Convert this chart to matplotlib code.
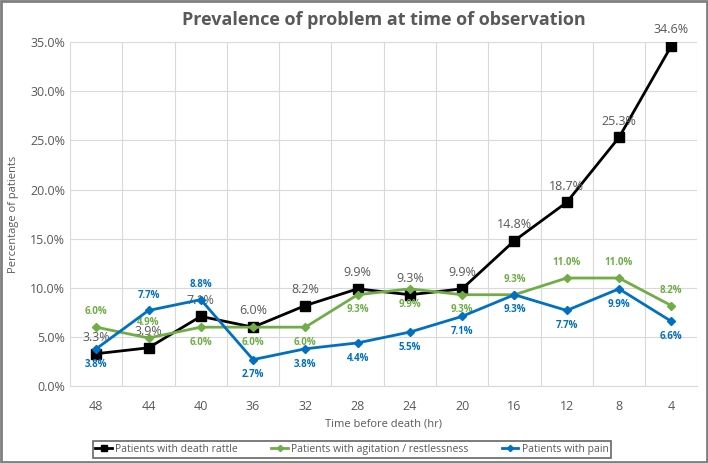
import numpy as np
import matplotlib.pyplot as plt
from matplotlib.ticker import FuncFormatter

plt.rcParams['font.family'] = ['Open Sans', 'DejaVu Sans']

hours = ['48', '44', '40', '36', '32', '28', '24', '20', '16', '12', '8', '4']
rattle = [3.3, 3.9, 7.1, 6.0, 8.2, 9.9, 9.3, 9.9, 14.8, 18.7, 25.3, 34.6]
agitation = [6.0, 4.9, 6.0, 6.0, 6.0, 9.3, 9.9, 9.3, 9.3, 11.0, 11.0, 8.2]
pain = [3.8, 7.7, 8.8, 2.7, 3.8, 4.4, 5.5, 7.1, 9.3, 7.7, 9.9, 6.6]

# label placement: 1 above, -1 below
agit_pos = [1, 1, -1, -1, -1, -1, -1, -1, 1, 1, 1, 1]
pain_pos = [-1, 1, 1, -1, -1, -1, -1, -1, -1, -1, -1, -1]

grey = '#595959'
green = '#70AD47'
blue = '#0070C0'

fig = plt.figure(figsize=(7.08, 4.63), dpi=100)
ax = fig.add_axes([0.099, 0.166, 0.886, 0.743])

x = np.arange(len(hours))
ax.plot(x, rattle, color='black', lw=2, marker='s', ms=7, label='Patients with death rattle', zorder=3)
ax.plot(x, agitation, color=green, lw=2, marker='D', ms=4.5, label='Patients with agitation / restlessness', zorder=4)
ax.plot(x, pain, color=blue, lw=2, marker='D', ms=4.5, label='Patients with pain', zorder=5)

for i in x:
    ax.annotate(f'{rattle[i]:.1f}%', (i, rattle[i]), xytext=(0, 7), textcoords='offset points',
                ha='center', va='bottom', color=grey, fontsize=9)
    ax.annotate(f'{agitation[i]:.1f}%', (i, agitation[i]), xytext=(0, 7 * agit_pos[i]), textcoords='offset points',
                ha='center', va='bottom' if agit_pos[i] > 0 else 'top', color=green, fontsize=7, fontweight='bold')
    ax.annotate(f'{pain[i]:.1f}%', (i, pain[i]), xytext=(0, 7 * pain_pos[i]), textcoords='offset points',
                ha='center', va='bottom' if pain_pos[i] > 0 else 'top', color=blue, fontsize=7, fontweight='bold')

ax.set_xlim(-0.5, len(hours) - 0.5)
ax.set_ylim(0, 35)
ax.set_yticks(np.arange(0, 36, 5))
ax.yaxis.set_major_formatter(FuncFormatter(lambda v, p: f'{v:.1f}%'))
ax.set_xticks(x)
ax.set_xticklabels(hours)
ax.set_xticks(np.arange(-0.5, len(hours), 1), minor=True)
ax.grid(True, which='major', axis='y', color='#D9D9D9', lw=0.8)
ax.grid(True, which='minor', axis='x', color='#D9D9D9', lw=0.8)
ax.tick_params(which='both', length=0, colors=grey, labelsize=9)
ax.tick_params(axis='x', pad=10)
for s in ax.spines.values():
    s.set_visible(False)
ax.spines['bottom'].set_visible(True)
ax.spines['bottom'].set_color('#D9D9D9')
ax.set_axisbelow(True)

ax.set_title('Prevalence of problem at time of observation', color=grey, fontsize=13,
             fontweight='bold', pad=12)
ax.set_xlabel('Time before death (hr)', color=grey, fontsize=8, labelpad=4)
ax.set_ylabel('Percentage of patients', color=grey, fontsize=8, labelpad=8)

leg = fig.legend(loc='lower center', bbox_to_anchor=(0.497, 0.005), ncol=3, fontsize=7.5,
                 frameon=True, fancybox=False, edgecolor='#404040', handlelength=1.6,
                 handletextpad=0.3, columnspacing=3.2, borderpad=0.25, borderaxespad=0.3,
                 labelcolor=grey, markerscale=0.7)
leg.get_frame().set_linewidth(1.2)

fig.patches.append(plt.Rectangle((0.002, 0.002), 0.996, 0.996, transform=fig.transFigure,
                                 fill=False, edgecolor='#7F7F7F', lw=2))

fig.savefig('out.png', dpi=100)
